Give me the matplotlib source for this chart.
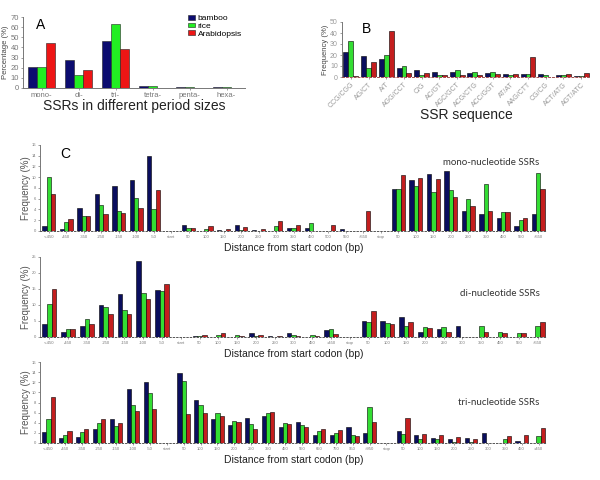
import numpy as np
import matplotlib
matplotlib.use("Agg")
import matplotlib.pyplot as plt

# ---------------- data ----------------
species = ["bamboo", "rice", "Arabidopsis"]

# Panel A
a_cats = ["mono-", "di-", "tri-", "tetra-", "penta-", "hexa-"]
a_bamboo = [21, 28, 46, 2.0, 0.9, 1.2]
a_rice = [21, 12.5, 63, 1.5, 0.5, 0.8]
a_arab = [44, 17.5, 38, 0.0, 0.0, 0.0]

# Panel B
b_cats = ["CCG/CGG", "AG/CT", "A/T", "AGG/CCT", "C/G", "AC/GT", "AGC/GCT",
          "ACG/CTG", "ACC/GGT", "AT/AT", "AAG/CTT", "CG/CG", "ACT/ATG", "AGT/ATC"]
b_bamboo = [23, 19, 16, 8, 6, 5, 4.5, 4, 3.5, 3, 3, 2.5, 1.5, 0.5]
b_rice = [33, 8.5, 20, 10, 2, 2, 6.5, 5, 4.5, 2, 3, 1.5, 1.5, 0.5]
b_arab = [0.5, 14, 41.5, 4, 3.5, 2, 2, 1.5, 2.5, 2.5, 18, 0, 3, 4]

# Panel C labels
up_labels = ["<-450", "-450", "-350", "-250", "-150", "-100", "-50", "start"]
mono_labels = up_labels + ["50", "100", "150", "200", "250", "300", "350", "450",
                           "500", "550", ">550", "stop", "50", "100", "150", "200",
                           "250", "350", "450", "550", ">550"]
di_labels = up_labels + ["50", "100", "150", "200", "250", "300", "450", ">450",
                         "stop", "50", "100", "150", "200", "250", "300", "350",
                         "450", "550", ">550"]
tri_labels = up_labels + ["50", "100", "150", "200", "250", "350", "450", "550",
                          "650", "750", "950", ">950", "stop", "50", "100", "150",
                          "200", "250", "300", "350", "450", ">450"]

mono_bamboo = [1.0, 0.45, 4.2, 6.9, 8.4, 9.5, 13.9, 0,
               1.1, 0, 0.2, 1.1, 0.1, 0, 0.6, 0.5, 0, 0.3, 0, 0,
               7.9, 9.5, 10.6, 11.2, 3.7, 3.2, 2.5, 1.0, 3.1]
mono_rice = [10.1, 1.7, 2.8, 4.8, 3.8, 6.1, 4.0, 0,
             0.6, 0.4, 0, 0.2, 0, 1.0, 0.6, 1.4, 0, 0, 0, 0,
             7.75, 8.4, 7.2, 7.6, 5.9, 8.7, 3.5, 2.0, 10.7]
mono_arab = [6.9, 2.2, 2.8, 3.2, 3.3, 4.2, 7.6, 0,
             0.6, 0.9, 0.4, 0.8, 0.4, 1.8, 1.1, 0, 1.2, 0, 3.8, 0,
             10.5, 9.9, 9.7, 6.3, 4.65, 3.7, 3.5, 2.5, 7.9]

di_bamboo = [4.2, 1.5, 3.5, 10.0, 13.3, 23.8, 14.8, 0,
             0.2, 0, 0, 1.1, 0.2, 1.1, 0, 2.3, 0,
             5.1, 5.1, 6.3, 1.6, 2.5, 3.5, 0, 0, 0, 0]
di_rice = [10.3, 2.5, 5.7, 9.4, 8.4, 13.6, 14.4, 0,
           0.2, 0.6, 0.6, 0.3, 0, 0.7, 0.5, 2.6, 0,
           4.6, 4.4, 3.5, 3.1, 3.1, 0, 3.5, 1.7, 1.4, 3.5]
di_arab = [15.0, 2.5, 4.2, 7.3, 7.3, 12.0, 16.5, 0,
           0.6, 1.2, 0.2, 0.6, 0.2, 0.2, 0.2, 1.0, 0,
           8.2, 4.2, 4.6, 2.8, 1.7, 0, 1.6, 1.4, 1.3, 4.7]

tri_bamboo = [2.1, 0.9, 1.25, 2.8, 4.7, 10.6, 12.1, 0,
              13.9, 8.4, 4.7, 3.6, 5.0, 5.3, 3.2, 4.2, 1.5, 1.5, 3.2, 2.0, 0,
              2.4, 1.5, 1.0, 0.7, 1.0, 2.0, 0, 0.3, 0]
tri_rice = [4.7, 1.6, 2.2, 4.0, 3.3, 7.6, 9.8, 0,
            12.2, 7.5, 5.9, 4.3, 3.7, 5.9, 3.9, 3.5, 2.3, 2.0, 1.6, 7.1, 0,
            1.8, 0.7, 0.7, 0.2, 0.2, 0, 0.7, 0, 1.3]
tri_arab = [9.0, 2.4, 2.8, 4.7, 4.0, 6.4, 6.7, 0,
            5.7, 6.0, 5.3, 4.2, 2.7, 6.2, 3.75, 3.2, 2.8, 2.6, 1.3, 4.1, 0,
            5.0, 1.8, 1.5, 1.1, 0.8, 0, 1.3, 1.6, 2.9]

# ---------------- style ----------------
W, H = 600, 480
fig = plt.figure(figsize=(6, 4.8), dpi=100)
fig.patch.set_facecolor("white")
plt.rcParams["font.family"] = ["Liberation Sans", "DejaVu Sans"]

GRAY = "#777777"
colA = ["#0c0c70", "#22ee22", "#ee1515"]
colC = ["#0a0e5e", "#33dd33", "#c41e1e"]


def px_axes(l, t, r, b):
    return fig.add_axes([l / W, 1 - b / H, (r - l) / W, (b - t) / H])


def style(ax, tsize, tcol=GRAY):
    for s in ["top", "right"]:
        ax.spines[s].set_visible(False)
    for s in ["left", "bottom"]:
        ax.spines[s].set_color(GRAY)
        ax.spines[s].set_linewidth(0.7)
    ax.tick_params(colors=GRAY, labelcolor=tcol, labelsize=tsize, length=1.5,
                   width=0.5, pad=1.5)


# ---------------- Panel A ----------------
axA = px_axes(23, 17, 245, 88)
x = np.arange(len(a_cats))
w = 0.235
for i, (vals, c) in enumerate(zip([a_bamboo, a_rice, a_arab], colA)):
    axA.bar(x + (i - 1) * w, vals, w, color=c, edgecolor="#222222",
            linewidth=0.4, label=species[i])
axA.set_xlim(-0.5, len(a_cats) - 0.5)
axA.set_ylim(0, 70)
axA.set_yticks(range(0, 71, 10))
axA.set_xticks(x)
axA.set_xticklabels(a_cats)
style(axA, 5.5)
axA.set_ylabel("Percentage (%)", fontsize=5.5, color="#444444", labelpad=1)
axA.set_xlabel("SSRs in different period sizes", fontsize=10, color="#222222",
               labelpad=0)
axA.text(0.06, 0.98, "A", transform=axA.transAxes, fontsize=10, va="top")
leg = axA.legend(loc="upper left", bbox_to_anchor=(0.72, 1.1), fontsize=6,
                 frameon=False, handlelength=0.8, handleheight=0.5,
                 handletextpad=0.4, labelspacing=0.05, borderpad=0.1)

# ---------------- Panel B ----------------
axB = px_axes(342, 22, 590, 77)
x = np.arange(len(b_cats))
w = 0.28
for i, (vals, c) in enumerate(zip([b_bamboo, b_rice, b_arab], colC)):
    axB.bar(x + (i - 1) * w, vals, w, color=c, edgecolor="black", linewidth=0.4)
axB.set_xlim(-0.5, len(b_cats) - 0.5)
axB.set_ylim(0, 50)
axB.set_yticks(range(0, 51, 10))
axB.set_xticks(x)
axB.set_xticklabels(b_cats, rotation=45, ha="right", rotation_mode="anchor")
style(axB, 5, "#999999")
axB.spines["bottom"].set_linestyle((0, (2, 2)))
axB.spines["bottom"].set_color("#a05050")
axB.set_ylabel("Frequency (%)", fontsize=5.5, color="#444444", labelpad=1)
axB.set_xlabel("SSR sequence", fontsize=10, color="#222222", labelpad=-1)
axB.text(0.08, 1.0, "B", transform=axB.transAxes, fontsize=10, va="top")


# ---------------- Panel C ----------------
def panelC(box, labels, data, ymax, ystep, title, ty):
    ax = px_axes(*box)
    xx = np.arange(len(labels))
    w = 0.245
    for i, (vals, c) in enumerate(zip(data, colC)):
        ax.bar(xx + (i - 1) * w, vals, w, color=c, edgecolor="black", linewidth=0.4)
    ax.set_xlim(-0.5, len(labels) - 0.5)
    ax.set_ylim(0, ymax)
    ax.set_yticks(np.arange(0, ymax + 0.01, ystep))
    ax.set_xticks(xx)
    ax.set_xticklabels(labels)
    style(ax, 3)
    ax.spines["bottom"].set_linestyle((0, (1.5, 2)))
    ax.spines["bottom"].set_color("#555555")
    ax.set_ylabel("Frequency (%)", fontsize=7, color="#555555", labelpad=0)
    ax.set_xlabel("Distance from start codon (bp)", fontsize=7.5,
                  color="#222222", labelpad=3)
    ax.text(0.985, ty, title, transform=ax.transAxes, fontsize=7,
            ha="right", va="center", color="#333333", family=["Lato", "DejaVu Sans"])
    return ax


axM = panelC((40, 145, 547, 231), mono_labels, [mono_bamboo, mono_rice, mono_arab],
             16, 2, "mono-nucleotide SSRs", 0.8)
axM.text(0.04, 0.9, "C", transform=axM.transAxes, fontsize=10, va="center")
panelC((40, 257, 547, 337), di_labels, [di_bamboo, di_rice, di_arab],
       25, 5, "di-nucleotide SSRs", 0.55)
panelC((40, 362, 547, 443), tri_labels, [tri_bamboo, tri_rice, tri_arab],
       16, 2, "tri-nucleotide SSRs", 0.5)

fig.savefig("out.png", dpi=100)
